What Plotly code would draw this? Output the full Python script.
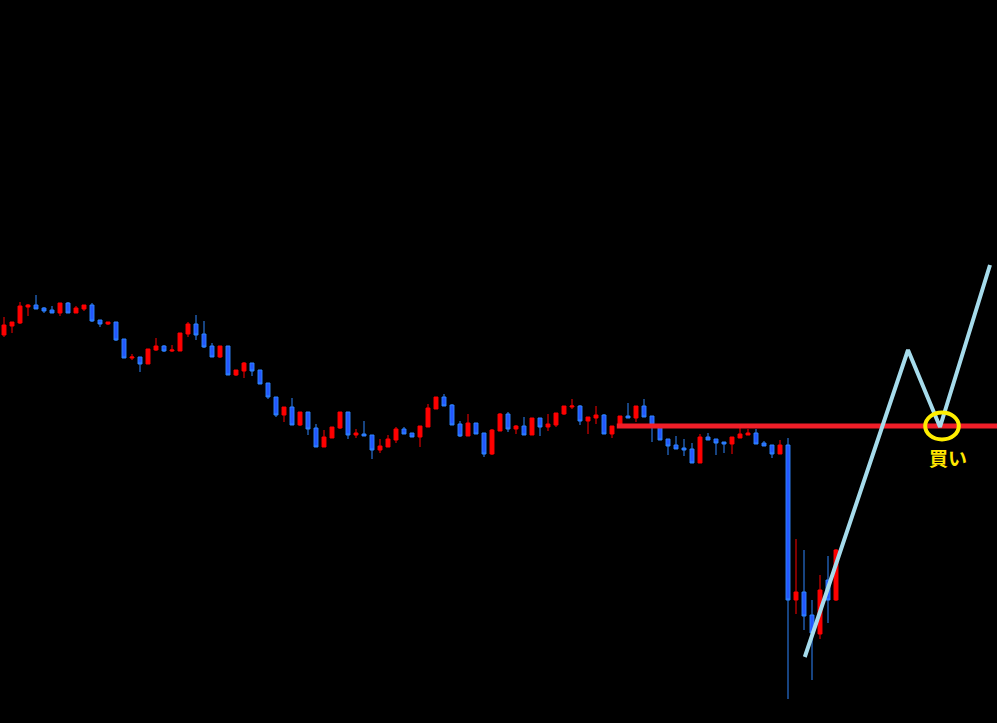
import plotly.graph_objects as go

# candle OHLC, one candle per bar (price units arbitrary)
opens = [388, 397, 400, 416, 418, 415, 413, 410, 420, 410, 414, 418, 403, 399, 401,
         384, 365, 366, 359, 373, 377, 372, 372, 389, 399, 389, 377, 366, 377, 348,
         352, 360, 353, 340, 326, 308, 316, 298, 311, 295, 276, 285, 295, 311, 288,
         289, 288, 273, 276, 283, 294, 290, 286, 296, 314, 326, 318, 299, 287, 300,
         290, 269, 292, 309, 294, 297, 288, 305, 296, 298, 309, 316, 317, 302, 305,
         308, 289, 296, 307, 305, 317, 307, 298, 284, 278, 275, 274, 260, 286, 284,
         281, 279, 285, 288, 290, 280, 278, 269, 278, 123, 131, 108, 89, 143, 123]
highs = [406, 401, 421, 419, 428, 416, 417, 420, 421, 417, 418, 420, 403, 401, 401,
         384, 369, 366, 374, 385, 378, 378, 390, 401, 408, 402, 380, 377, 377, 353,
         361, 360, 353, 340, 326, 316, 325, 311, 311, 299, 293, 296, 311, 311, 294,
         302, 288, 284, 288, 296, 296, 290, 297, 319, 326, 329, 319, 302, 309, 300,
         290, 294, 310, 311, 298, 306, 305, 305, 309, 310, 317, 324, 318, 306, 317,
         309, 297, 307, 320, 317, 324, 307, 298, 284, 287, 284, 280, 289, 290, 284,
         281, 286, 296, 294, 294, 282, 278, 283, 285, 184, 173, 123, 148, 167, 174]
lows = [386, 390, 399, 407, 414, 410, 410, 407, 410, 410, 412, 401, 396, 398, 382,
        365, 363, 351, 359, 372, 371, 371, 372, 386, 383, 375, 366, 365, 348, 347,
        345, 347, 339, 324, 306, 301, 298, 297, 288, 276, 276, 285, 294, 284, 285,
        287, 264, 270, 276, 280, 289, 286, 276, 296, 314, 317, 298, 286, 287, 289,
        266, 268, 292, 291, 289, 288, 288, 287, 292, 296, 308, 314, 298, 289, 299,
        289, 285, 296, 305, 301, 306, 281, 283, 268, 274, 267, 260, 260, 283, 268,
        270, 269, 285, 288, 279, 277, 265, 269, 24, 109, 93, 43, 84, 100, 122]
closes = [398, 401, 417, 418, 414, 412, 410, 420, 410, 415, 418, 402, 399, 401, 383,
          365, 366, 359, 374, 377, 372, 373, 390, 399, 388, 376, 366, 377, 348, 353,
          360, 352, 339, 326, 308, 316, 298, 311, 294, 276, 286, 296, 311, 288, 290,
          287, 273, 277, 284, 294, 289, 286, 297, 315, 326, 317, 298, 287, 300, 289,
          269, 293, 309, 294, 297, 288, 305, 296, 299, 310, 317, 317, 302, 306, 308,
          289, 297, 307, 305, 317, 306, 298, 283, 277, 274, 273, 260, 286, 283, 280,
          279, 286, 289, 290, 279, 277, 269, 278, 123, 131, 107, 90, 133, 123, 173]

# resistance level and the drawn zig-zag scenario
level_price = 297
level_start = 76.6
zigzag_x = [100.1, 113.0, 117.0, 123.25]
zigzag_y = [66, 373, 296, 458]
buy_x = 117.25
buy_y = 297
buy_label = "買い"

RED = "#ff0000"
BLUE_LINE = "#2e86ff"
BLUE_FILL = "#2456ff"

bars = list(range(len(opens)))

fig = go.Figure()
fig.add_trace(
    go.Candlestick(
        x=bars,
        open=opens,
        high=highs,
        low=lows,
        close=closes,
        increasing=dict(line=dict(color=RED, width=1), fillcolor=RED),
        decreasing=dict(line=dict(color=BLUE_LINE, width=1), fillcolor=BLUE_FILL),
        whiskerwidth=0,
        showlegend=False,
    )
)
fig.add_trace(
    go.Scatter(
        x=[level_start, 124.2],
        y=[level_price, level_price],
        mode="lines",
        line=dict(color="#f01e28", width=5),
        showlegend=False,
        hoverinfo="skip",
    )
)
fig.add_trace(
    go.Scatter(
        x=zigzag_x,
        y=zigzag_y,
        mode="lines",
        line=dict(color="#a6dcec", width=4),
        showlegend=False,
        hoverinfo="skip",
    )
)

# yellow ring round the buy point, label underneath
fig.add_shape(
    type="circle",
    xref="x",
    yref="y",
    x0=buy_x - 2.1,
    x1=buy_x + 2.1,
    y0=buy_y - 13.5,
    y1=buy_y + 13.5,
    line=dict(color="#ffee00", width=4),
    layer="above",
)
fig.add_annotation(
    x=buy_x + 0.75,
    y=buy_y - 31,
    text=f"<b>{buy_label}</b>",
    showarrow=False,
    font=dict(family="Noto Sans CJK JP", size=19, color="#ffe600"),
)

fig.update_layout(
    width=997,
    height=723,
    margin=dict(l=0, r=0, t=0, b=0),
    paper_bgcolor="#000000",
    plot_bgcolor="#000000",
    xaxis=dict(
        range=[-0.5, 124.125],
        visible=False,
        rangeslider=dict(visible=False),
        fixedrange=True,
    ),
    yaxis=dict(range=[0, 723], visible=False, fixedrange=True),
    boxgap=0.3,
)

fig.write_html(
    "out.html",
    config={"displayModeBar": False},
    post_script="document.body.style.margin='0';document.body.style.background='#000';",
)
